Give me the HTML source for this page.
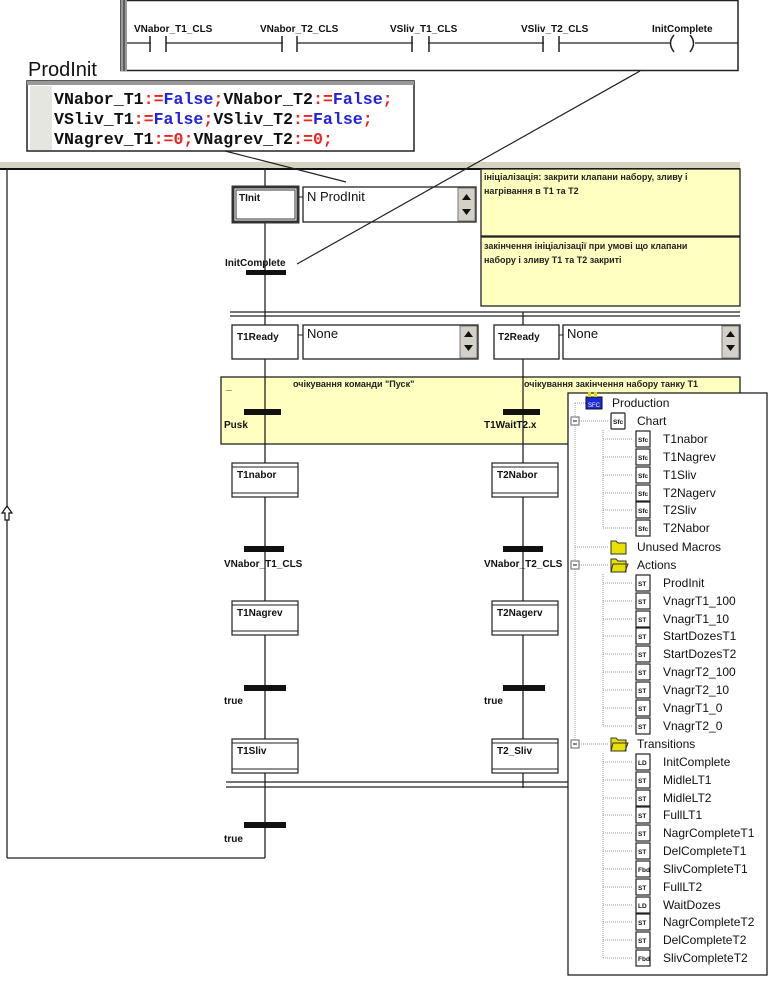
<!DOCTYPE html>
<html><head><meta charset="utf-8"><style>
body{margin:0;background:#fff;width:768px;height:982px;overflow:hidden}
svg{display:block}
text{font-family:"Liberation Sans",sans-serif}
.s{font-size:10px;font-weight:bold;fill:#111}
.m{font-family:"Liberation Mono",monospace;font-size:16.6px;font-weight:bold}
.t{font-size:12px;fill:#111}
</style></head><body>
<svg width="768" height="982" viewBox="0 0 768 982" xmlns="http://www.w3.org/2000/svg">
<rect x="121" y="0.5" width="617" height="70" fill="#fff" stroke="#222" stroke-width="1.5"/>
<rect x="121" y="0" width="6" height="71" fill="#999"/><line x1="124" y1="0" x2="124" y2="71" stroke="#222"/>
<line x1="127" y1="43" x2="738" y2="43" stroke="#222" stroke-width="1.3"/>
<g stroke="#fff" stroke-width="14"><line x1="151" y1="43" x2="166" y2="43"/><line x1="283" y1="43" x2="297" y2="43"/><line x1="413" y1="43" x2="428" y2="43"/><line x1="544" y1="43" x2="559" y2="43"/><line x1="671" y1="43" x2="695" y2="43"/></g>
<g stroke="#222" stroke-width="1.5"><line x1="150" y1="36" x2="150" y2="52"/><line x1="166" y1="36" x2="166" y2="52"/><line x1="282" y1="36" x2="282" y2="52"/><line x1="297" y1="36" x2="297" y2="52"/><line x1="412" y1="36" x2="412" y2="52"/><line x1="429" y1="36" x2="429" y2="52"/><line x1="543" y1="36" x2="543" y2="52"/><line x1="559" y1="36" x2="559" y2="52"/></g>
<path d="M674 35 Q667 43 674 52 M690 35 Q697 43 690 52" fill="none" stroke="#222" stroke-width="1.5"/>
<g class="s"><text x="134" y="32">VNabor_T1_CLS</text><text x="260" y="32">VNabor_T2_CLS</text><text x="390" y="32">VSliv_T1_CLS</text><text x="521" y="32">VSliv_T2_CLS</text><text x="652" y="32">InitComplete</text></g>
<text x="28" y="76" font-size="20" fill="#111">ProdInit</text>
<rect x="27" y="81" width="387" height="70" fill="#fff" stroke="#222" stroke-width="1.5"/>
<rect x="27" y="81" width="387" height="4" fill="#999"/>
<rect x="30" y="86" width="22" height="64" fill="#e6e6e0"/>
<text class="m" y="104" x="54"><tspan fill="#111">VNabor_T1</tspan><tspan fill="#e22">:=</tspan><tspan fill="#22d">False</tspan><tspan fill="#e22">;</tspan><tspan fill="#111">VNabor_T2</tspan><tspan fill="#e22">:=</tspan><tspan fill="#22d">False</tspan><tspan fill="#e22">;</tspan></text>
<text class="m" y="124" x="54"><tspan fill="#111">VSliv_T1</tspan><tspan fill="#e22">:=</tspan><tspan fill="#22d">False</tspan><tspan fill="#e22">;</tspan><tspan fill="#111">VSliv_T2</tspan><tspan fill="#e22">:=</tspan><tspan fill="#22d">False</tspan><tspan fill="#e22">;</tspan></text>
<text class="m" y="144" x="54"><tspan fill="#111">VNagrev_T1</tspan><tspan fill="#e22">:=0;</tspan><tspan fill="#111">VNagrev_T2</tspan><tspan fill="#e22">:=0;</tspan></text>
<rect x="0" y="162" width="740" height="6" fill="#d8d2c2"/>
<line x1="0" y1="169" x2="740" y2="169" stroke="#111" stroke-width="2"/>
<rect x="481" y="169" width="259" height="67" fill="#ffffc0" stroke="#222" stroke-width="1.3"/>
<rect x="481" y="237" width="259" height="69" fill="#ffffc0" stroke="#222" stroke-width="1.3"/>
<text x="484" y="180" font-size="9" font-weight="bold" fill="#222">ініціалізація: закрити клапани набору, зливу і</text>
<text x="484" y="194" font-size="9" font-weight="bold" fill="#222">нагрівання в Т1 та Т2</text>
<text x="484" y="249" font-size="9" font-weight="bold" fill="#222">закінчення ініціалізації при умові що клапани</text>
<text x="484" y="263" font-size="9" font-weight="bold" fill="#222">набору і зливу Т1 та Т2 закриті</text>
<line x1="7" y1="169" x2="7" y2="858" stroke="#222" stroke-width="1.3"/>
<line x1="7" y1="858" x2="265" y2="858" stroke="#222" stroke-width="1.3"/>
<path d="M7 506 L2 513 L5 513 L5 520 L9 520 L9 513 L12 513 Z" fill="#fff" stroke="#111" stroke-width="1.2"/>
<line x1="265" y1="169" x2="265" y2="858" stroke="#222" stroke-width="1.3"/>
<line x1="523" y1="312" x2="523" y2="788" stroke="#222" stroke-width="1.3"/>
<rect x="233" y="187" width="65" height="35" fill="#fff" stroke="#333" stroke-width="3"/>
<rect x="236" y="190" width="59" height="29" fill="#fff" stroke="#333" stroke-width="1"/>
<text class="s" x="239" y="201">TInit</text>
<line x1="298" y1="197" x2="303" y2="197" stroke="#222"/>
<rect x="303" y="187" width="173" height="35" fill="#fff" stroke="#222" stroke-width="1.3"/>
<text x="307" y="201" font-size="13" fill="#111">N ProdInit</text>
<rect x="458" y="188" width="17" height="33" fill="#d4d0c8" stroke="#777"/>
<path d="M462 200 L466.5 194 L471 200Z M462 209 L466.5 215 L471 209Z" fill="#111"/>
<rect x="246" y="270" width="40" height="5" fill="#111"/>
<text class="s" x="225" y="266" font-weight="normal" font-size="9.5">InitComplete</text>
<line x1="640" y1="71" x2="297" y2="264" stroke="#222" stroke-width="1.2"/>
<line x1="225" y1="151" x2="346" y2="182" stroke="#222" stroke-width="1.2"/>
<line x1="230" y1="312" x2="740" y2="312" stroke="#222" stroke-width="1.3"/>
<line x1="230" y1="316" x2="740" y2="316" stroke="#222" stroke-width="1.3"/>
<rect x="232" y="325" width="66" height="34" fill="#fff" stroke="#222" stroke-width="1.3"/>
<text class="s" x="237" y="340">T1Ready</text>
<line x1="298" y1="335" x2="303" y2="335" stroke="#222"/>
<rect x="303" y="325" width="175" height="34" fill="#fff" stroke="#222" stroke-width="1.3"/>
<text x="307" y="338" font-size="13" fill="#111">None</text>
<rect x="460" y="326" width="17" height="32" fill="#d4d0c8" stroke="#777"/>
<path d="M464 337 L468.5 331 L473 337Z M464 345 L468.5 351 L473 345Z" fill="#111"/>
<rect x="494" y="325" width="65" height="34" fill="#fff" stroke="#222" stroke-width="1.3"/>
<text class="s" x="498" y="340">T2Ready</text>
<line x1="559" y1="335" x2="563" y2="335" stroke="#222"/>
<rect x="563" y="325" width="177" height="34" fill="#fff" stroke="#222" stroke-width="1.3"/>
<text x="567" y="338" font-size="13" fill="#111">None</text>
<rect x="722" y="326" width="17" height="32" fill="#d4d0c8" stroke="#777"/>
<path d="M726 337 L730.5 331 L735 337Z M726 345 L730.5 351 L735 345Z" fill="#111"/>
<rect x="221" y="377" width="519" height="67" fill="#ffffc0" stroke="#222" stroke-width="1.3"/>
<line x1="265" y1="377" x2="265" y2="444" stroke="#222" stroke-width="1.3"/>
<line x1="523" y1="377" x2="523" y2="444" stroke="#222" stroke-width="1.3"/>
<text x="226" y="389" font-size="10" font-weight="bold">_</text>
<text x="293" y="387" font-size="9" font-weight="bold" fill="#222">очікування команди "Пуск"</text>
<text x="524" y="387" font-size="9" font-weight="bold" fill="#222">очікування закінчення набору танку Т1</text>
<rect x="244" y="409" width="37" height="6" fill="#111"/>
<rect x="503" y="409" width="37" height="6" fill="#111"/>
<text class="s" x="224" y="428" font-weight="normal">Pusk</text>
<text class="s" x="484" y="428" font-weight="normal">T1WaitT2.x</text>
<g fill="#fff" stroke="#222" stroke-width="1.2">
<rect x="232" y="463" width="66" height="34"/><rect x="492" y="463" width="66" height="34"/>
<rect x="232" y="601" width="66" height="34"/><rect x="492" y="601" width="66" height="34"/>
<rect x="232" y="739" width="66" height="34"/><rect x="492" y="739" width="66" height="34"/>
</g>
<g stroke="#222" stroke-width="1">
<line x1="232" y1="467" x2="298" y2="467"/><line x1="232" y1="493" x2="298" y2="493"/><line x1="492" y1="467" x2="558" y2="467"/><line x1="492" y1="493" x2="558" y2="493"/>
<line x1="232" y1="605" x2="298" y2="605"/><line x1="232" y1="631" x2="298" y2="631"/><line x1="492" y1="605" x2="558" y2="605"/><line x1="492" y1="631" x2="558" y2="631"/>
<line x1="232" y1="743" x2="298" y2="743"/><line x1="232" y1="769" x2="298" y2="769"/><line x1="492" y1="743" x2="558" y2="743"/><line x1="492" y1="769" x2="558" y2="769"/>
</g>
<g class="s"><text x="237" y="478">T1nabor</text><text x="497" y="478">T2Nabor</text><text x="237" y="616">T1Nagrev</text><text x="497" y="616">T2Nagerv</text><text x="237" y="754">T1Sliv</text><text x="497" y="754">T2_Sliv</text></g>
<g fill="#111"><rect x="244" y="546" width="40" height="6"/><rect x="503" y="546" width="40" height="6"/><rect x="244" y="685" width="42" height="6"/><rect x="503" y="685" width="42" height="6"/><rect x="244" y="822" width="42" height="6"/></g>
<g class="s" font-weight="normal"><text x="224" y="567">VNabor_T1_CLS</text><text x="484" y="567">VNabor_T2_CLS</text><text x="224" y="704">true</text><text x="484" y="704">true</text><text x="224" y="842">true</text></g>
<line x1="226" y1="782" x2="570" y2="782" stroke="#222" stroke-width="1.3"/>
<line x1="226" y1="787" x2="570" y2="787" stroke="#222" stroke-width="1.3"/>
<rect x="568" y="393" width="199" height="582" fill="#fff" stroke="#222" stroke-width="1.3"/>
<g stroke="#999" stroke-dasharray="1,1" fill="none">
<line x1="575" y1="403" x2="575" y2="744"/><line x1="575" y1="403" x2="597" y2="403"/>
<line x1="575" y1="421" x2="608" y2="421"/><line x1="575" y1="547" x2="608" y2="547"/><line x1="575" y1="565" x2="608" y2="565"/><line x1="575" y1="744" x2="608" y2="744"/>
<line x1="603" y1="430" x2="603" y2="528"/><line x1="603" y1="574" x2="603" y2="726"/><line x1="603" y1="753" x2="603" y2="958"/>
</g>
<g stroke="#999" stroke-dasharray="1,1">
<path d="M603 439h30M603 457h30M603 475h30M603 493h30M603 510h30M603 528h30M603 583h30M603 601h30M603 619h30M603 636h30M603 654h30M603 672h30M603 690h30M603 708h30M603 726h30M603 762h30M603 780h30M603 798h30M603 815h30M603 833h30M603 851h30M603 869h30M603 887h30M603 905h30M603 922h30M603 940h30M603 958h30"/>
</g>
<g fill="#fff" stroke="#666"><rect x="571" y="417" width="8" height="8"/><rect x="571" y="561" width="8" height="8"/><rect x="571" y="740" width="8" height="8"/></g>
<path d="M573 421h4M573 565h4M573 744h4" stroke="#111"/>
<rect x="586" y="397" width="16" height="12" fill="#1a2ad8" stroke="#111"/><rect x="588" y="392" width="3" height="5" fill="#dd0"/><rect x="594" y="392" width="3" height="5" fill="#dd0"/>
<text x="588" y="407" font-size="6" fill="#fff" font-family="Liberation Mono">SFC</text>
<g fill="#fff" stroke="#222" stroke-width="1.2">
<rect x="611" y="413" width="14" height="16" rx="1"/>
<rect x="636" y="431" width="14" height="16"/><rect x="636" y="449" width="14" height="16"/><rect x="636" y="467" width="14" height="16"/><rect x="636" y="485" width="14" height="16"/><rect x="636" y="502" width="14" height="16"/><rect x="636" y="520" width="14" height="16"/>
<rect x="636" y="575" width="14" height="16"/><rect x="636" y="593" width="14" height="16"/><rect x="636" y="611" width="14" height="16"/><rect x="636" y="628" width="14" height="16"/><rect x="636" y="646" width="14" height="16"/><rect x="636" y="664" width="14" height="16"/><rect x="636" y="682" width="14" height="16"/><rect x="636" y="700" width="14" height="16"/><rect x="636" y="718" width="14" height="16"/>
<rect x="636" y="754" width="14" height="16"/><rect x="636" y="772" width="14" height="16"/><rect x="636" y="790" width="14" height="16"/><rect x="636" y="807" width="14" height="16"/><rect x="636" y="825" width="14" height="16"/><rect x="636" y="843" width="14" height="16"/><rect x="636" y="861" width="14" height="16"/><rect x="636" y="879" width="14" height="16"/><rect x="636" y="897" width="14" height="16"/><rect x="636" y="914" width="14" height="16"/><rect x="636" y="932" width="14" height="16"/><rect x="636" y="950" width="14" height="16"/>
</g>
<g font-size="6.5" font-weight="bold" fill="#111" font-family="Liberation Sans">
<text x="613" y="424">Sfc</text>
<text x="638" y="442">Sfc</text><text x="638" y="460">Sfc</text><text x="638" y="478">Sfc</text><text x="638" y="496">Sfc</text><text x="638" y="513">Sfc</text><text x="638" y="531">Sfc</text>
<text x="638" y="586">ST</text><text x="638" y="604">ST</text><text x="638" y="622">ST</text><text x="638" y="639">ST</text><text x="638" y="657">ST</text><text x="638" y="675">ST</text><text x="638" y="693">ST</text><text x="638" y="711">ST</text><text x="638" y="729">ST</text>
<text x="638" y="765">LD</text><text x="638" y="783">ST</text><text x="638" y="801">ST</text><text x="638" y="818">ST</text><text x="638" y="836">ST</text><text x="638" y="854">ST</text><text x="638" y="872">Fbd</text><text x="638" y="890">ST</text><text x="638" y="908">LD</text><text x="638" y="925">ST</text><text x="638" y="943">ST</text><text x="638" y="961">Fbd</text>
</g>
<path d="M611 541h5l2 2h8v11h-15z" fill="#e8e000" stroke="#333"/>
<path d="M611 559h5l2 2h8v11h-15z M613 564h15l-3 8h-14z" fill="#e8e000" stroke="#333"/>
<path d="M611 738h5l2 2h8v11h-15z M613 743h15l-3 8h-14z" fill="#e8e000" stroke="#333"/>
<g class="t">
<text x="612" y="407">Production</text>
<text x="637" y="425">Chart</text>
<text x="663" y="443">T1nabor</text><text x="663" y="461">T1Nagrev</text><text x="663" y="479">T1Sliv</text><text x="663" y="497">T2Nagerv</text><text x="663" y="514">T2Sliv</text><text x="663" y="532">T2Nabor</text>
<text x="637" y="551">Unused Macros</text>
<text x="637" y="569">Actions</text>
<text x="663" y="587">ProdInit</text><text x="663" y="605">VnagrT1_100</text><text x="663" y="623">VnagrT1_10</text><text x="663" y="640">StartDozesT1</text><text x="663" y="658">StartDozesT2</text><text x="663" y="676">VnagrT2_100</text><text x="663" y="694">VnagrT2_10</text><text x="663" y="712">VnagrT1_0</text><text x="663" y="730">VnagrT2_0</text>
<text x="637" y="748">Transitions</text>
<text x="663" y="766">InitComplete</text><text x="663" y="784">MidleLT1</text><text x="663" y="802">MidleLT2</text><text x="663" y="819">FullLT1</text><text x="663" y="837">NagrCompleteT1</text><text x="663" y="855">DelCompleteT1</text><text x="663" y="873">SlivCompleteT1</text><text x="663" y="891">FullLT2</text><text x="663" y="909">WaitDozes</text><text x="663" y="926">NagrCompleteT2</text><text x="663" y="944">DelCompleteT2</text><text x="663" y="962">SlivCompleteT2</text>
</g>
</svg>
</body></html>
